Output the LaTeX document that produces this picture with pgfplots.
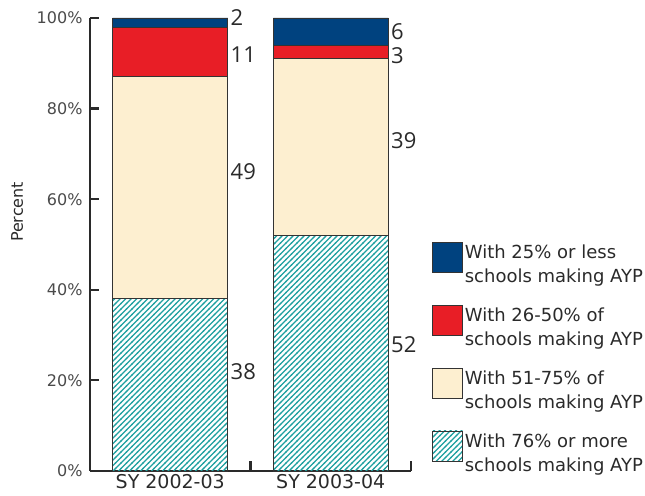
\documentclass[border=0pt]{standalone}
\usepackage{fontspec}
\setmainfont{DejaVu Sans}
\newfontfamily\numfont{Open Sans}
\usepackage{pgfplots}
\pgfplotsset{compat=1.18}
\usetikzlibrary{patterns}
\pgfdeclarepatternformonly{hatchne}{\pgfqpoint{-1bp}{-1bp}}{\pgfqpoint{6.5bp}{6.5bp}}{\pgfqpoint{5.5bp}{5.5bp}}{%
  \pgfsetlinewidth{1.1bp}%
  \pgfpathmoveto{\pgfqpoint{-0.5bp}{-0.5bp}}%
  \pgfpathlineto{\pgfqpoint{6bp}{6bp}}%
  \pgfusepath{stroke}}
\definecolor{navyb}{HTML}{00427F}
\definecolor{redb}{HTML}{E81E26}
\definecolor{creamb}{HTML}{FDEFD0}
\definecolor{tealb}{HTML}{1FA0A0}
\definecolor{txt}{HTML}{2A2A2A}
\definecolor{edge}{HTML}{333333}
\begin{document}
\begin{tikzpicture}[x=1bp,y=1bp]
\useasboundingbox (-90,-25) rectangle (555,471);
\begin{axis}[
  at={(0,0)}, anchor=south west,
  scale only axis, width=321bp, height=453bp,
  ybar stacked, bar width=115bp,
  xmin=-0.5, xmax=1.5, ymin=0, ymax=100,
  axis x line*=bottom, axis y line*=left,
  axis line style={line width=2.2bp, color=txt},
  xtick={0,1}, xticklabels={SY 2002-03, SY 2003-04},
  major x tick style={draw=none},
  extra x ticks={0.5,1.5}, extra x tick labels={},
  extra x tick style={major x tick style={draw=txt, line width=2.2bp}, major tick length=10bp},
  ytick={0,20,40,60,80,100},
  yticklabels={0\%,20\%,40\%,60\%,80\%,100\%},
  tick align=inside, major tick length=9bp,
  y tick style={line width=2.2bp, color=txt},
  yticklabel style={font=\fontsize{16bp}{18bp}\selectfont, color=txt!85, xshift=-4bp},
  xticklabel style={font=\fontsize{19bp}{22bp}\selectfont, color=txt, yshift=0bp},
  ylabel={Percent},
  ylabel style={font=\fontsize{16bp}{18bp}\selectfont, color=txt, at={(axis description cs:-0.227,0.572)}, anchor=center},
  legend style={at={(axis description cs:1.065,0.5055)}, anchor=north west, draw=none, fill=none,
    inner sep=0pt, row sep=18.8bp, font=\fontsize{18bp}{24bp}\selectfont, text=txt,
    cells={align=left}},
  legend cell align=left,
  reverse legend,
  legend image code/.code={\draw[#1, draw=edge, line width=0.8bp] (0bp,-8bp) rectangle (30bp,22bp);},
  clip=false,
]
\addplot+[draw=edge, line width=0.8bp, pattern=hatchne, pattern color=tealb] coordinates {(0,38) (1,52)};
\addlegendentry{With 76\% or more\\schools making AYP}
\addplot+[draw=edge, line width=0.8bp, fill=creamb] coordinates {(0,49) (1,39)};
\addlegendentry{With 51-75\% of\\schools making AYP}
\addplot+[draw=edge, line width=0.8bp, fill=redb] coordinates {(0,11) (1,3)};
\addlegendentry{With 26-50\% of\\schools making AYP}
\addplot+[draw=edge, line width=0.8bp, fill=navyb] coordinates {(0,2) (1,6)};
\addlegendentry{With 25\% or less\\schools making AYP}
\node[anchor=west, inner sep=2.5bp, font=\numfont\fontsize{22bp}{24bp}\selectfont, text=txt] at (axis cs:0.36,22) {38};
\node[anchor=west, inner sep=2.5bp, font=\numfont\fontsize{22bp}{24bp}\selectfont, text=txt] at (axis cs:0.36,66) {49};
\node[anchor=west, inner sep=2.5bp, font=\numfont\fontsize{22bp}{24bp}\selectfont, text=txt] at (axis cs:0.36,92) {11};
\node[anchor=west, inner sep=2.5bp, font=\numfont\fontsize{22bp}{24bp}\selectfont, text=txt] at (axis cs:0.36,100) {2};
\node[anchor=west, inner sep=2.5bp, font=\numfont\fontsize{22bp}{24bp}\selectfont, text=txt] at (axis cs:1.36,27.8) {52};
\node[anchor=west, inner sep=2.5bp, font=\numfont\fontsize{22bp}{24bp}\selectfont, text=txt] at (axis cs:1.36,73) {39};
\node[anchor=west, inner sep=2.5bp, font=\numfont\fontsize{22bp}{24bp}\selectfont, text=txt] at (axis cs:1.36,91.7) {3};
\node[anchor=west, inner sep=2.5bp, font=\numfont\fontsize{22bp}{24bp}\selectfont, text=txt] at (axis cs:1.36,97) {6};
\end{axis}
\end{tikzpicture}
\end{document}
